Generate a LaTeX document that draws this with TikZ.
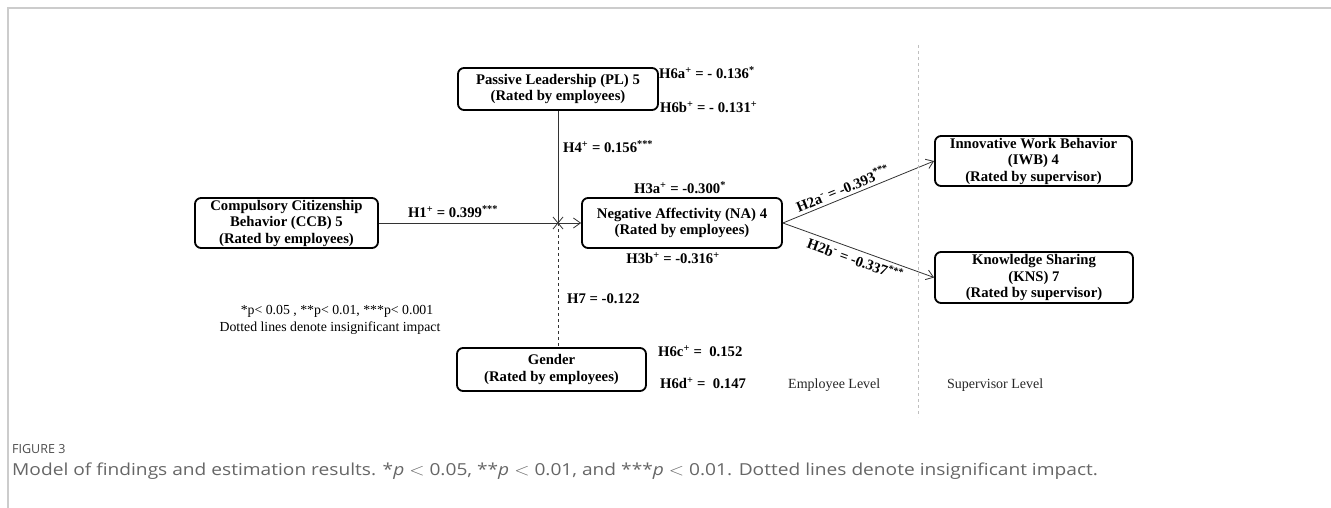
\documentclass[tikz,border=0pt]{standalone}
\usepackage{fontspec}
\setmainfont{Liberation Serif}
\newfontfamily\capfont{Open Sans}
\usetikzlibrary{arrows.meta}
\begin{document}
\begin{tikzpicture}[x=1pt,y=-1pt,
  box/.style={draw, line width=1.8pt, rounded corners=6pt, align=center,
    font=\fontsize{14.7}{16.5}\selectfont\bfseries, inner sep=0pt},
  lab/.style={font=\fontsize{14.7}{16.5}\selectfont\bfseries, inner sep=0pt},
  note/.style={font=\fontsize{13.8}{16}\selectfont, inner sep=0pt, align=center},
  lvl/.style={font=\fontsize{14}{16}\selectfont, inner sep=0pt, text=black!85, anchor=west},
  conn/.style={line width=0.8pt, draw=black!80},
  arr/.style={conn, -{Straight Barb[length=7pt,width=10pt]}}]
\useasboundingbox (0,0) rectangle (1331,508);
% frame
\draw[gray!40, line width=1.5pt] (8,508) -- (8,8) -- (1331,8);
% boxes
\node[box, minimum width=183pt, minimum height=50pt] (ccb) at (286.5,223) {Compulsory Citizenship\\Behavior (CCB) 5\\(Rated by employees)};
\node[box, minimum width=200pt, minimum height=42pt] (pl) at (558,89) {Passive Leadership (PL) 5\\(Rated by employees)};
\node[box, minimum width=200pt, minimum height=50pt] (na) at (682,223) {Negative Affectivity (NA) 4\\(Rated by employees)};
\node[box, minimum width=197pt, minimum height=50pt] (iwb) at (1033.5,161) {Innovative Work Behavior\\(IWB) 4\\(Rated by supervisor)};
\node[box, minimum width=198pt, minimum height=51pt] (kns) at (1034,277.5) {Knowledge Sharing\\(KNS) 7\\(Rated by supervisor)};
\node[box, minimum width=189pt, minimum height=43pt] (gen) at (551.5,369.5) {Gender\\(Rated by employees)};
% connectors
\coordinate (x) at (558,223);
\draw[arr] (ccb.east) -- (na.west);
\draw[conn] (pl.south -| x) -- (x);
\draw[conn, dashed] (x) -- (x |- gen.north);
\draw[conn] (x) ++(-5,-6) -- ++(10,12);
\draw[conn] (x) ++(5,-6) -- ++(-10,12);
\draw[arr] (na.east) -- (iwb.west) node[lab, pos=0.42, sloped, above=3pt] {H2a\textsuperscript{-} = -0.393\textsuperscript{***}};
\draw[arr] (na.east) -- (kns.west) node[lab, pos=0.5, sloped, below=3pt] {H2b\textsuperscript{-} = -0.337\textsuperscript{***}};
% divider
\draw[dashed, gray!50, line width=0.8pt] (918,45) -- (918,417);
% labels
\node[lab] (h1) at (453,212) {H1\textsuperscript{+} = 0.399\textsuperscript{***}};
\node[lab, anchor=west] (h6a) at (659,73) {H6a\textsuperscript{+} = - 0.136\textsuperscript{*}};
\node[lab, anchor=west] (h6b) at (660,107) {H6b\textsuperscript{+} = - 0.131\textsuperscript{+}};
\node[lab, anchor=west] (h4) at (563,147) {H4\textsuperscript{+} = 0.156\textsuperscript{***}};
\node[lab] (h3a) at (680,188) {H3a\textsuperscript{+} = -0.300\textsuperscript{*}};
\node[lab] (h3b) at (673,258) {H3b\textsuperscript{+} = -0.316\textsuperscript{+}};
\node[lab, anchor=west] (h7) at (567,299) {H7 = -0.122};
\node[lab, anchor=west] (h6c) at (658,351) {H6c\textsuperscript{+} =\ \ 0.152};
\node[lab, anchor=west] (h6d) at (660,383) {H6d\textsuperscript{+} =\ \ 0.147};
% notes
\node[note] (n1) at (337,311) {*p< 0.05 , **p< 0.01, ***p< 0.001};
\node[note] (n2) at (330,328) {Dotted lines denote insignificant impact};
\node[lvl] (el) at (788,385) {Employee Level};
\node[lvl] (sl) at (947,385) {Supervisor Level};
% caption
\node[anchor=west, inner sep=0pt, font=\capfont\fontsize{12.5}{14}\selectfont, text=black!70] (fig) at (12,449) {FIGURE 3};
\node[anchor=west, inner sep=0pt, font=\capfont\fontsize{16.5}{18}\selectfont, text=black!60] (cap) at (12,471) {\scalebox{1.16}[1]{Model of findings and estimation results. *\textit{p} $<$ 0.05, **\textit{p} $<$ 0.01, and ***\textit{p} $<$ 0.01. Dotted lines denote insignificant impact.}};
\end{tikzpicture}
\end{document}
